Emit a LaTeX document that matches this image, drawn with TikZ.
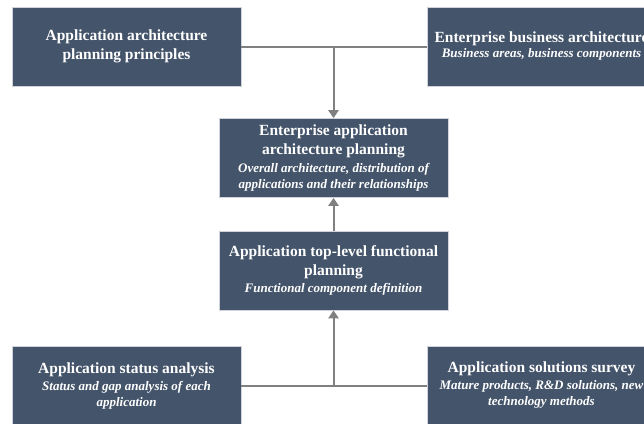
\documentclass[tikz,border=0pt]{standalone}
\usepackage{fontspec}
\setmainfont{Liberation Serif}
\usetikzlibrary{arrows.meta}
\definecolor{boxfill}{HTML}{44546A}
\definecolor{boxedge}{HTML}{D0D4DA}
\definecolor{linkgray}{HTML}{808080}
\tikzset{
  card/.style={draw=boxedge, line width=0.6pt, fill=boxfill, text=white,
    minimum width=229pt, minimum height=79pt, inner sep=0pt, align=center,
    font=\fontsize{15.5}{19}\selectfont\bfseries},
  link/.style={draw=linkgray, line width=2pt},
  arrowlink/.style={link, -{Triangle[length=8pt,width=10pt]}},
}
\newcommand{\subt}[1]{{\fontsize{13}{16}\selectfont\bfseries\itshape #1}}
\begin{document}
\begin{tikzpicture}[x=1pt,y=-1pt]
\useasboundingbox (0,0) rectangle (644,423);
\clip (0,0) rectangle (644,423);
\node[card] (tl) at (126.5,46.5) {Application architecture\\planning principles};
\node[card] (tr) at (541.5,46.5) {Enterprise business architecture\\[-4pt]\subt{Business areas, business components}};
\node[card] (m1) at (333.5,158) {Enterprise application\\architecture planning\\[-1.5pt]\subt{Overall architecture, distribution of}\\[-3pt]\subt{applications and their relationships}};
\node[card] (m2) at (333.5,270.5) {Application top-level functional\\planning\\[-2pt]\subt{Functional component definition}};
\node[card] (bl) at (126.5,385.5) {Application status analysis\\[-2pt]\subt{Status and gap analysis of each}\\[-3pt]\subt{application}};
\node[card] (br) at (541.5,385.5) {Application solutions survey\\[-2pt]\subt{Mature products, R\&D solutions, new}\\[-3pt]\subt{technology methods}};
\coordinate (j1) at (m1.north |- tl.east);
\coordinate (j2) at (m2.south |- bl.east);
\draw[link] (tl.east) -- (tr.west);
\draw[arrowlink] (j1) -- (m1.north);
\draw[arrowlink] (m2.north) -- (m1.south);
\draw[link] (bl.east) -- (br.west);
\draw[arrowlink] (j2) -- (m2.south);
\end{tikzpicture}
\end{document}
